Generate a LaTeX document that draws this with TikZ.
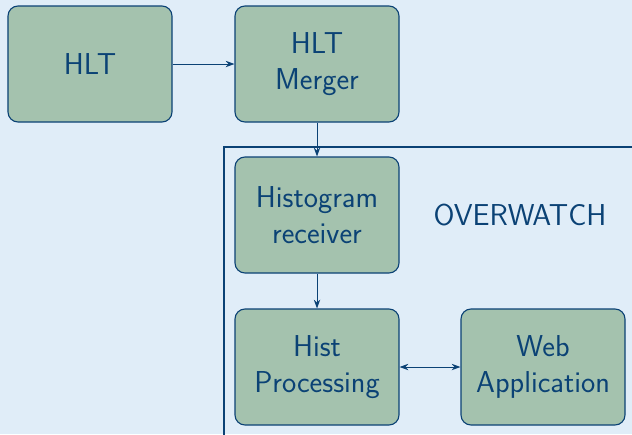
\documentclass[tikz,border=0pt]{standalone}
\usetikzlibrary{positioning, arrows.meta}

\definecolor{slidebg}{HTML}{E0EDF8}
\definecolor{boxfill}{HTML}{A4C2AE}
\definecolor{darkblue}{HTML}{0B4275}

\tikzset{
	block/.style = {draw = darkblue, fill = boxfill, line width = 0.8 pt, rounded corners = 0.25 cm,
		minimum width = 4.1 cm, minimum height = 2.9 cm, align = center, text = darkblue,
		font = \sffamily\fontsize{21.5}{25.8}\selectfont},
	link/.style = {draw = darkblue, line width = 0.7 pt, -{Stealth[length=2.2mm, width=1.6mm]}}
}

\begin{document}
\begin{tikzpicture}

	% Background
	
	\fill [slidebg] (0, 0) rectangle (15.8, -10.85);
	\useasboundingbox (0, 0) rectangle (15.8, -10.85);
	\clip (0, 0) rectangle (15.8, -10.85);
	
	% Overwatch frame
	
	\draw [darkblue, line width = 1.4 pt] (5.6, -11.5) -- (5.6, -3.675) -- (16.5, -3.675);
	\node [text = darkblue, font = \sffamily\fontsize{21.5}{25.8}\selectfont] (overwatch) at (13.0, -5.375) {OVERWATCH};
	
	% Blocks
	
	\node [block] (hlt) at (2.25, -1.6) {HLT};
	\node [block] (merger) at (7.925, -1.6) {HLT\\Merger};
	\node [block] (receiver) at (7.925, -5.375) {Histogram\\receiver};
	\node [block] (processing) at (7.925, -9.175) {Hist\\Processing};
	\node [block] (webapp) at (13.575, -9.175) {Web\\Application};
	
	% Links
	
	\draw [link] (hlt) -- (merger);
	\draw [link] (merger) -- (receiver);
	\draw [link] (receiver) -- (processing);
	\draw [link, {Stealth[length=2.2mm, width=1.6mm]}-{Stealth[length=2.2mm, width=1.6mm]}] (processing) -- (webapp);

\end{tikzpicture}
\end{document}
